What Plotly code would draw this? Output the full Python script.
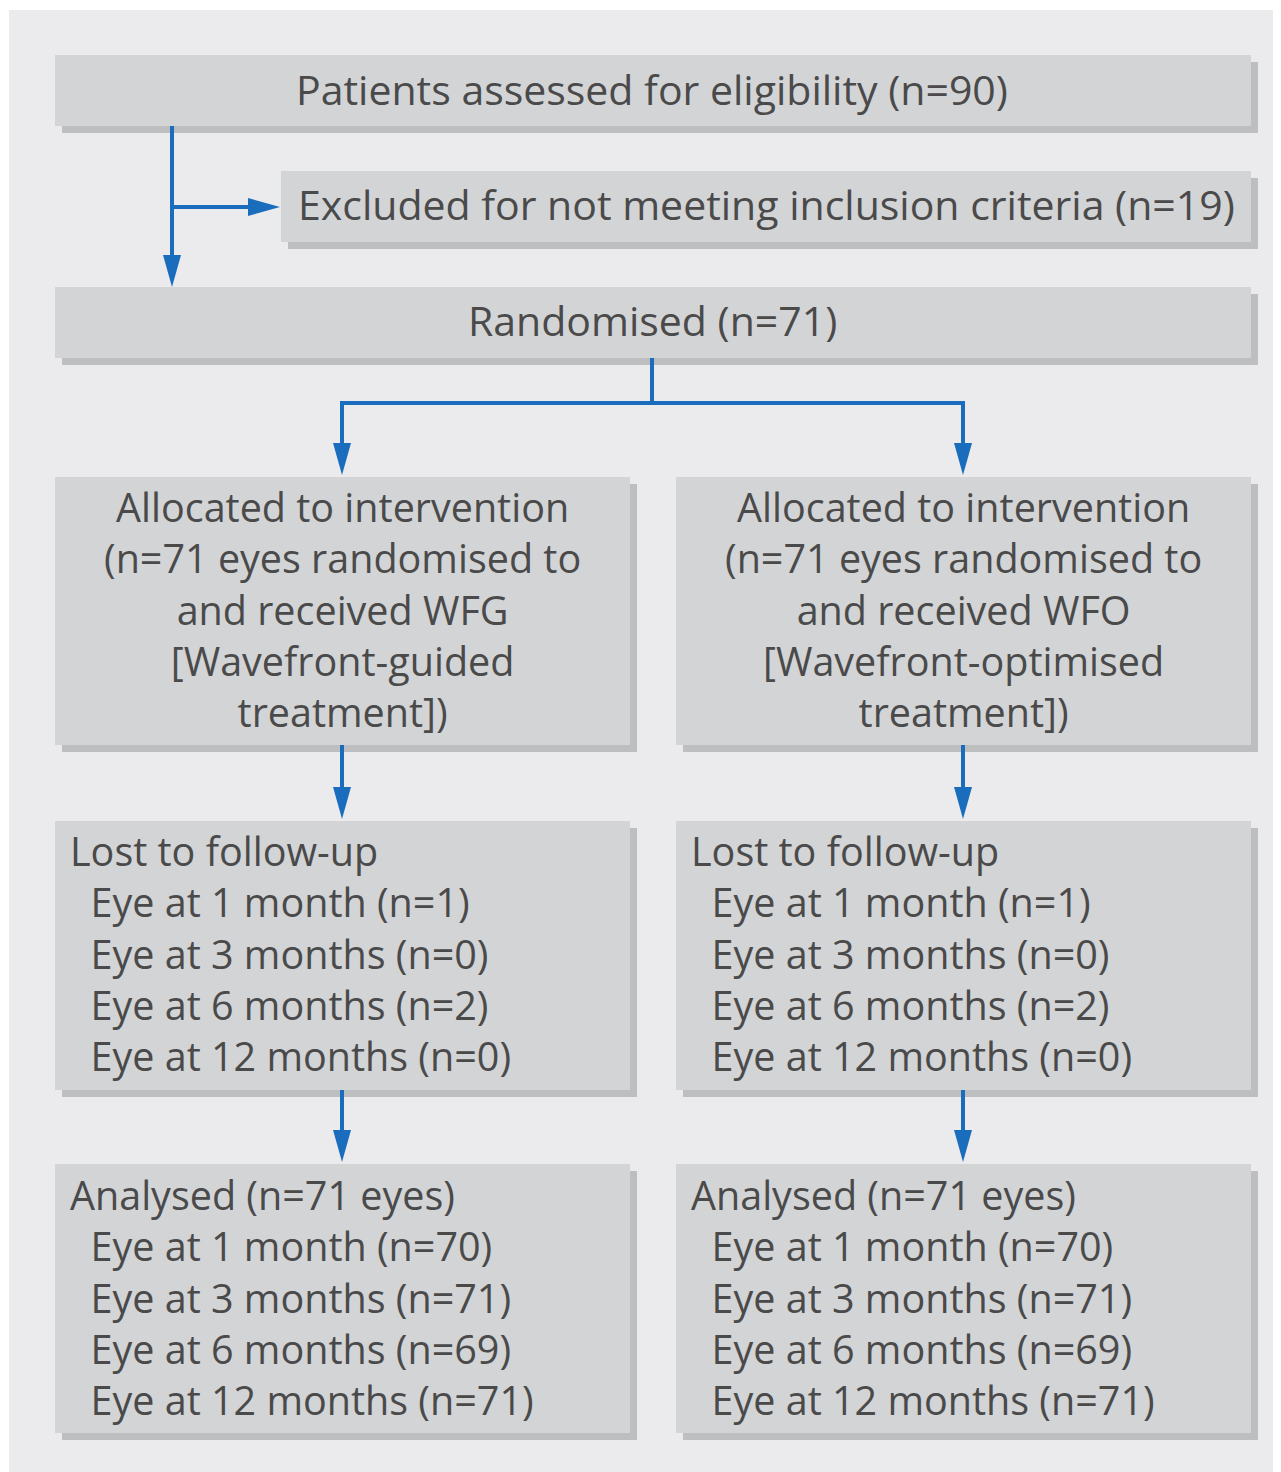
import plotly.graph_objects as go

# ---------------- data ----------------
assessed_label = "Patients assessed for eligibility"
n_assessed = 90
excluded_label = "Excluded for not meeting inclusion criteria"
n_excluded = 19
randomised_label = "Randomised"
n_randomised = 71

arm_codes = ["WFG", "WFO"]
arm_treatments = ["Wavefront-guided", "Wavefront-optimised"]
arm_eyes = [71, 71]

timepoints = ["1 month", "3 months", "6 months", "12 months"]
lost_wfg = [1, 0, 2, 0]
lost_wfo = [1, 0, 2, 0]
analysed_eyes = [71, 71]
analysed_wfg = [70, 71, 69, 71]
analysed_wfo = [70, 71, 69, 71]

# ---------------- styles ----------------
W, H = 1281, 1472
OFF = 8  # default page body margin
PANEL = "#ebebed"
BOX = "#d3d4d6"
SHADOW = "#bdbec0"
BLUE = "#1a6dbd"
TXT = "#4a4a4a"
FONT = "Open Sans"
FS_SINGLE = 41
FS_BLOCK = 39.5
SH = 7
IND = "\u00a0\u00a0"

fig = go.Figure()
fig.add_trace(go.Scatter(x=[OFF, W], y=[OFF, H], mode="markers",
                         marker=dict(opacity=0), hoverinfo="skip", showlegend=False))

shapes = []
annots = []

# background panel
shapes.append(dict(type="rect", x0=9, x1=W + 5, y0=10, y1=H + 5,
                   fillcolor=PANEL, line=dict(width=0), layer="below"))


def box(x0, y0, x1, y1):
    shapes.append(dict(type="rect", x0=x0 + SH, x1=x1 + SH, y0=y0 + SH, y1=y1 + SH,
                       fillcolor=SHADOW, line=dict(width=0), layer="below"))
    shapes.append(dict(type="rect", x0=x0, x1=x1, y0=y0, y1=y1,
                       fillcolor=BOX, line=dict(width=0), layer="below"))


def text(x, y, s, anchor="center", size=FS_SINGLE):
    annots.append(dict(x=x, y=y, text=s, showarrow=False, xanchor=anchor, align=anchor,
                       yanchor="middle", font=dict(family=FONT, size=size, color=TXT)))


def line(x0, y0, x1, y1):
    shapes.append(dict(type="line", x0=x0, y0=y0, x1=x1, y1=y1,
                       line=dict(color=BLUE, width=4)))


def head_down(x, ytip):
    shapes.append(dict(type="path",
                       path=f"M {x-9},{ytip-32} L {x+9},{ytip-32} L {x},{ytip} Z",
                       fillcolor=BLUE, line=dict(width=0)))


def head_right(xtip, y):
    shapes.append(dict(type="path",
                       path=f"M {xtip-32},{y-9} L {xtip-32},{y+9} L {xtip},{y} Z",
                       fillcolor=BLUE, line=dict(width=0)))


# top boxes
box(55, 55, 1251, 126)
text(652, 89, f"{assessed_label} (n={n_assessed})")
box(281, 171, 1251, 242)
text(766, 204, f"{excluded_label} (n={n_excluded})")
box(55, 287, 1251, 358)
text(652, 320, f"{randomised_label} (n={n_randomised})")

# arrows top
line(172, 126, 172, 260)
head_down(172, 287)
line(172, 207, 255, 207)
head_right(280, 207)

line(652, 358, 652, 403)
line(340, 403, 965, 403)
col_cx = [342, 963]
for cx in col_cx:
    line(cx, 401, cx, 450)
    head_down(cx, 475)

lost_all = [lost_wfg, lost_wfo]
anal_all = [analysed_wfg, analysed_wfo]
col_x0 = [55, 676]
for i in range(2):
    x0 = col_x0[i]
    x1 = x0 + 575
    cx = col_cx[i]
    # allocated
    box(x0, 477, x1, 745)
    alloc_lines = ["Allocated to intervention",
                   f"(n={arm_eyes[i]} eyes randomised to",
                   f"and received {arm_codes[i]}",
                   f"[{arm_treatments[i]}",
                   "treatment])"]
    text(cx, 609, "<br>".join(alloc_lines), "center", FS_BLOCK)
    line(cx, 745, cx, 795)
    head_down(cx, 819)
    # lost
    box(x0, 821, x1, 1090)
    lost_lines = ["Lost to follow-up"] + [
        f"{IND}Eye at {tp} (n={lost_all[i][k]})" for k, tp in enumerate(timepoints)]
    text(x0 + 13, 953, "<br>".join(lost_lines), "left", FS_BLOCK)
    line(cx, 1090, cx, 1138)
    head_down(cx, 1162)
    # analysed
    box(x0, 1164, x1, 1433)
    anal_lines = [f"Analysed (n={analysed_eyes[i]} eyes)"] + [
        f"{IND}Eye at {tp} (n={anal_all[i][k]})" for k, tp in enumerate(timepoints)]
    text(x0 + 13, 1297, "<br>".join(anal_lines), "left", FS_BLOCK)

fig.update_layout(
    width=W - OFF, height=H - OFF,
    margin=dict(l=0, r=0, t=0, b=0),
    paper_bgcolor="white", plot_bgcolor="white",
    xaxis=dict(range=[OFF, W], visible=False, fixedrange=True),
    yaxis=dict(range=[H, OFF], visible=False, fixedrange=True),
    shapes=shapes, annotations=annots, showlegend=False,
)
fig.write_html("out.html")
